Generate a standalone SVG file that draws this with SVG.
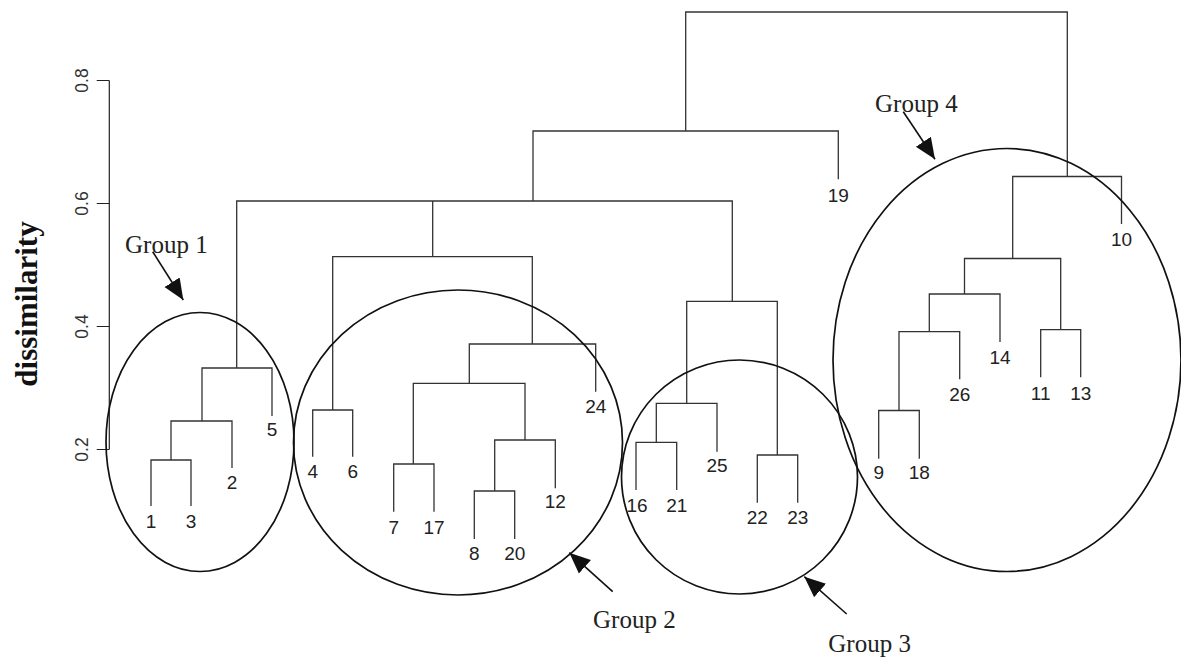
<svg xmlns="http://www.w3.org/2000/svg" width="1181" height="657" viewBox="0 0 1181 657">
<style>
.tree{fill:none;stroke:#333;stroke-width:1.3}
.axis{fill:none;stroke:#222;stroke-width:1.2}
.ring{fill:none;stroke:#111;stroke-width:1.7}
.arrow{fill:none;stroke:#111;stroke-width:1.6}
.leaf{font-family:"Liberation Sans",Arial,sans-serif;font-size:19px;fill:#222;text-anchor:middle}
.tick{font-family:"Liberation Sans",Arial,sans-serif;font-size:17.5px;fill:#333;text-anchor:middle}
.glabel{font-family:"Liberation Serif","Times New Roman",serif;font-size:25px;fill:#222}
.ylab{font-family:"Liberation Serif","Times New Roman",serif;font-size:31px;font-weight:bold;fill:#111;text-anchor:middle}
</style>
<defs>
<marker id="head" markerUnits="userSpaceOnUse" markerWidth="22" markerHeight="20" viewBox="0 0 22 20" refX="21" refY="10" orient="auto">
<path d="M0,1 L21,10 L0,19 z" fill="#111"/>
</marker>
</defs>
<rect width="1181" height="657" fill="#fff"/>

<g id="axis">
<path class="axis" d="M109.3 80.5 V449.5 M96.7 80.5 H109.3 M96.7 203.5 H109.3 M96.7 326.5 H109.3 M96.7 449.5 H109.3"/>
<text class="tick" transform="translate(87.5,80.5) rotate(-90)">0.8</text>
<text class="tick" transform="translate(87.5,203.5) rotate(-90)">0.6</text>
<text class="tick" transform="translate(87.5,326.5) rotate(-90)">0.4</text>
<text class="tick" transform="translate(87.5,449.5) rotate(-90)">0.2</text>
<text class="ylab" transform="translate(37,304) rotate(-90)">dissimilarity</text>
</g>

<g id="connectors">
<path class="tree" d="M685.7 131 V12 H1067.3 V176.5"/>
<path class="tree" d="M533 201 V131 H838.3 V179.3"/>
<path class="tree" d="M236.7 368 V201 H732.3 V301.3 M432.7 201 V256.7"/>
<path class="tree" d="M151 506 V460 H191 V506"/>
<path class="tree" d="M171 460 V421 H232 V468"/>
<path class="tree" d="M202 421 V368 H272 V416"/>
<path class="tree" d="M312.7 456.7 V410 H352.7 V456.7"/>
<path class="tree" d="M332.7 410 V256.7 H532.3 V344"/>
<path class="tree" d="M469.3 383.3 V344 H595.7 V391.7"/>
<path class="tree" d="M413.3 464 V383.3 H525 V440"/>
<path class="tree" d="M393.7 511.7 V464 H434 V511.7"/>
<path class="tree" d="M494.7 491 V440 H555.3 V488.3"/>
<path class="tree" d="M474.3 539 V491 H514.7 V539"/>
<path class="tree" d="M636 490 V442.3 H676.7 V490"/>
<path class="tree" d="M656.3 442.3 V403.3 H717 V451.7"/>
<path class="tree" d="M686.7 403.3 V301.3 H777.3 V455"/>
<path class="tree" d="M757.3 502.7 V455 H797.7 V502.7"/>
<path class="tree" d="M878.7 458.7 V410.5 H919.3 V458.7"/>
<path class="tree" d="M899 410.5 V331.7 H959.7 V379.3"/>
<path class="tree" d="M929.3 331.7 V294 H1000 V342"/>
<path class="tree" d="M1040.7 377.3 V329.7 H1080.7 V377.3"/>
<path class="tree" d="M964.5 294 V258.5 H1060.7 V329.7"/>
<path class="tree" d="M1012.7 258.5 V176.5 H1121.5 V224"/>
</g>

<g id="leaves">
<g id="leaf-1"><text class="leaf" x="151" y="528">1</text></g>
<g id="leaf-3"><text class="leaf" x="191" y="528">3</text></g>
<g id="leaf-2"><text class="leaf" x="232" y="489">2</text></g>
<g id="leaf-5"><text class="leaf" x="272" y="436">5</text></g>
<g id="leaf-4"><text class="leaf" x="312.7" y="478">4</text></g>
<g id="leaf-6"><text class="leaf" x="352.7" y="478">6</text></g>
<g id="leaf-7"><text class="leaf" x="393.7" y="534">7</text></g>
<g id="leaf-17"><text class="leaf" x="434" y="534">17</text></g>
<g id="leaf-8"><text class="leaf" x="474.3" y="560">8</text></g>
<g id="leaf-20"><text class="leaf" x="514.7" y="560">20</text></g>
<g id="leaf-12"><text class="leaf" x="555.3" y="508.3">12</text></g>
<g id="leaf-24"><text class="leaf" x="595.7" y="412.7">24</text></g>
<g id="leaf-16"><text class="leaf" x="637" y="511.7">16</text></g>
<g id="leaf-21"><text class="leaf" x="676.7" y="511.7">21</text></g>
<g id="leaf-25"><text class="leaf" x="717" y="471.7">25</text></g>
<g id="leaf-22"><text class="leaf" x="757.3" y="524.3">22</text></g>
<g id="leaf-23"><text class="leaf" x="797.7" y="524.3">23</text></g>
<g id="leaf-19"><text class="leaf" x="838.3" y="201.7">19</text></g>
<g id="leaf-9"><text class="leaf" x="878.7" y="479">9</text></g>
<g id="leaf-18"><text class="leaf" x="919.3" y="479">18</text></g>
<g id="leaf-26"><text class="leaf" x="959.7" y="401">26</text></g>
<g id="leaf-14"><text class="leaf" x="1000" y="363.5">14</text></g>
<g id="leaf-11"><text class="leaf" x="1040.7" y="400">11</text></g>
<g id="leaf-13"><text class="leaf" x="1080.7" y="400">13</text></g>
<g id="leaf-10"><text class="leaf" x="1121.5" y="246">10</text></g>
</g>

<g id="group1">
<ellipse class="ring" cx="200" cy="442" rx="94" ry="129.5"/>
<text class="glabel" x="125" y="253">Group 1</text>
<line class="arrow" x1="152.7" y1="251.7" x2="183.3" y2="300" marker-end="url(#head)"/>
</g>
<g id="group2">
<ellipse class="ring" cx="458" cy="442.5" rx="164.5" ry="152.5"/>
<text class="glabel" x="593" y="628.3">Group 2</text>
<line class="arrow" x1="612.7" y1="591.7" x2="569.3" y2="552.7" marker-end="url(#head)"/>
</g>
<g id="group3">
<ellipse class="ring" cx="739.5" cy="477" rx="118" ry="117"/>
<text class="glabel" x="828.3" y="651.5">Group 3</text>
<line class="arrow" x1="846.7" y1="614" x2="804.3" y2="576.7" marker-end="url(#head)"/>
</g>
<g id="group4">
<ellipse class="ring" cx="1007" cy="360" rx="174" ry="211.5"/>
<text class="glabel" x="875" y="111.7">Group 4</text>
<line class="arrow" x1="903.3" y1="111.7" x2="935" y2="159.3" marker-end="url(#head)"/>
</g>
</svg>
